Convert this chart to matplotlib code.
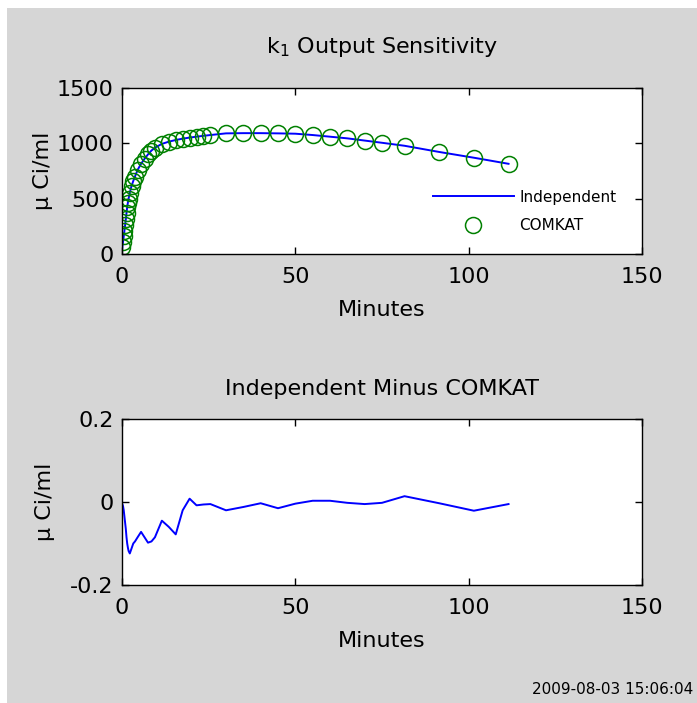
import matplotlib
matplotlib.use("Agg")
import matplotlib.pyplot as plt
from matplotlib.patches import Rectangle

plt.rcParams['font.family'] = ['DejaVu Sans']
plt.rcParams['mathtext.fontset'] = 'dejavusans'

# ---- data ----
minutes = [0.1, 0.3, 0.5, 0.7, 0.9, 1.1, 1.3, 1.5, 1.7, 1.9, 2.25, 2.75, 3.25, 3.75,
           4.5, 5.5, 6.5, 7.5, 8.5, 9.5, 11.5, 13.5, 15.5, 17.5, 19.5, 21.5, 23.5,
           25.5, 30, 35, 40, 45, 50, 55, 60, 65, 70, 75, 81.5, 91.5, 101.5, 111.5]
independent = [60, 110, 160, 210, 260, 315, 370, 425, 465, 500, 555, 615, 660, 700,
               760, 815, 860, 900, 935, 960, 995, 1015, 1030, 1042, 1052, 1060, 1068,
               1075, 1090, 1092, 1092, 1090, 1087, 1075, 1060, 1045, 1025, 1005, 978,
               922, 870, 815]
difference = [-0.005, -0.01, -0.02, -0.035, -0.05, -0.065, -0.085, -0.1, -0.11, -0.118,
              -0.124, -0.112, -0.1, -0.095, -0.085, -0.072, -0.085, -0.098, -0.095,
              -0.085, -0.045, -0.06, -0.078, -0.02, 0.008, -0.008, -0.006, -0.005,
              -0.02, -0.012, -0.003, -0.015, -0.004, 0.003, 0.003, -0.002, -0.005,
              -0.002, 0.014, -0.003, -0.021, -0.005]
comkat = [a - d for a, d in zip(independent, difference)]

xticks = [0, 50, 100, 150]
yticks_top = [0, 500, 1000, 1500]
yticks_bot = [-0.2, 0, 0.2]
ytick_labels_bot = ['-0.2', '0', '0.2']

W, H = 697, 703
fig = plt.figure(figsize=(W / 100, H / 100), dpi=100, facecolor='white')
fig.patches.append(Rectangle((7 / W, 0), 1 - 7 / W, 1 - 8 / H, transform=fig.transFigure,
                             facecolor='#d6d6d6', edgecolor='none', zorder=-10))

FS = 16

def style(ax):
    ax.set_facecolor('white')
    ax.tick_params(direction='in', top=True, right=True, length=5, width=1,
                   labelsize=FS, colors='black')
    ax.tick_params(axis='x', pad=9)
    ax.tick_params(axis='y', pad=6)
    for s in ax.spines.values():
        s.set_linewidth(1)
        s.set_color('black')

ax1 = fig.add_axes([122 / W, 1 - 254 / H, 520 / W, 166 / H])
ax1.plot(minutes, independent, color='blue', lw=1.4, label='Independent')
ax1.plot(minutes, comkat, linestyle='none', marker='o', markersize=11.5,
         markerfacecolor='none', markeredgecolor='#008000', markeredgewidth=1.1,
         label='COMKAT')
ax1.set_xlim(0, 150)
ax1.set_ylim(0, 1500)
ax1.set_xticks(xticks)
ax1.set_yticks(yticks_top)
style(ax1)
ax1.set_xlabel('Minutes', fontsize=FS, labelpad=10)
ax1.set_ylabel('\u03bc Ci/ml', fontsize=FS)
ax1.yaxis.set_label_coords((53 - 122) / 520, 0.5)
ax1.set_title('k$_1$ Output Sensitivity', fontsize=FS, pad=25)
leg = ax1.legend(loc='lower right', frameon=False, fontsize=11, handlelength=5.3,
                 handletextpad=0.4, borderaxespad=0.3, labelspacing=0.9,
                 bbox_to_anchor=(0.972, 0.06))

ax2 = fig.add_axes([122 / W, 1 - 585 / H, 520 / W, 166 / H])
ax2.plot(minutes, difference, color='blue', lw=1.4)
ax2.set_xlim(0, 150)
ax2.set_ylim(-0.2, 0.2)
ax2.set_xticks(xticks)
ax2.set_yticks(yticks_bot)
ax2.set_yticklabels(ytick_labels_bot)
style(ax2)
ax2.set_xlabel('Minutes', fontsize=FS, labelpad=10)
ax2.set_ylabel('\u03bc Ci/ml', fontsize=FS)
ax2.yaxis.set_label_coords((55 - 122) / 520, 0.5)
ax2.set_title('Independent Minus COMKAT', fontsize=FS, pad=17)

fig.text(693 / W, 1 - 690 / H, '2009-08-03 15:06:04', ha='right', va='center',
         fontsize=11)

fig.savefig('out.png', dpi=100, facecolor=fig.get_facecolor())
